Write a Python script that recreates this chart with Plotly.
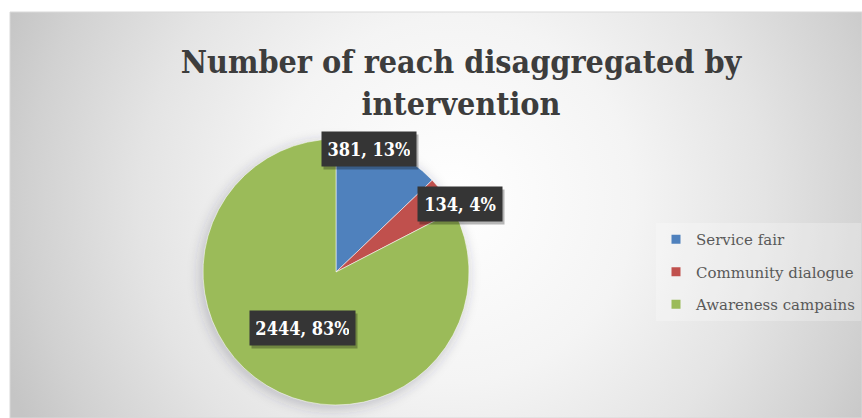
import base64
import plotly.graph_objects as go

# ---- data -----------------------------------------------------------------
categories = ["Service fair", "Community dialogue", "Awareness campains"]
reach = [381, 134, 2444]
share_text = ["13%", "4%", "83%"]
colors = ["#4F81BD", "#C0504D", "#9BBB59"]

title_text = "Number of reach disaggregated by<br>intervention"

# ---- geometry (pixels) ----------------------------------------------------
W, H = 862, 418
box_x0, box_y0 = 10, 12                 # chart-area frame
pie_cx, pie_cy, pie_r = 336, 272, 133   # pie centre / radius
# centres of the value call-outs
label_centres = [(369, 149), (460, 204), (302, 328)]
LABEL_FONT = 18
CHAR_W = 10.3                            # approx. glyph advance of call-out text
LABEL_H = 22

SERIF = "DejaVu Serif Condensed, DejaVu Serif, serif"


def px(x):
    return x / W


def py(y):
    return 1 - y / H


# ---- background: radial grey gradient + soft pie shadow ------------------
bw, bh = W - box_x0, H - box_y0
gcx, gcy = 452 - box_x0, 200 - box_y0
svg = f"""<svg xmlns="http://www.w3.org/2000/svg" width="{bw}" height="{bh}"
 viewBox="0 0 {bw} {bh}" preserveAspectRatio="none">
<defs>
<radialGradient id="g" gradientUnits="userSpaceOnUse" cx="{gcx}" cy="{gcy}" r="480">
<stop offset="0" stop-color="#ffffff"/>
<stop offset="0.38" stop-color="#f4f4f4"/>
<stop offset="0.65" stop-color="#e4e4e4"/>
<stop offset="0.88" stop-color="#d1d1d1"/>
<stop offset="1" stop-color="#c5c5c5"/>
</radialGradient>
<filter id="b" x="-30%" y="-30%" width="160%" height="160%">
<feGaussianBlur stdDeviation="6"/>
</filter>
</defs>
<rect x="0" y="0" width="{bw}" height="{bh}" fill="url(#g)"/>
<circle cx="{pie_cx - box_x0 - 2}" cy="{pie_cy - box_y0 + 3}" r="{pie_r + 2}"
 fill="#30304a" fill-opacity="0.22" filter="url(#b)"/>
</svg>"""
bg_src = "data:image/svg+xml;base64," + base64.b64encode(svg.encode()).decode()

fig = go.Figure()

fig.add_trace(go.Pie(
    labels=categories,
    values=reach,
    sort=False,
    direction="clockwise",
    rotation=0,
    marker=dict(colors=colors, line=dict(color="rgba(255,255,255,0.55)", width=1)),
    textinfo="none",
    hoverinfo="label+value+percent",
    showlegend=False,
    domain=dict(x=[px(pie_cx - pie_r), px(pie_cx + pie_r)],
                y=[py(pie_cy + pie_r), py(pie_cy - pie_r)]),
))

# legend entries with small square keys
for i, (name, col) in enumerate(zip(categories, colors)):
    fig.add_trace(go.Scatter(
        x=[None], y=[None], mode="markers", name=name,
        legendgroup=f"g{i}",
        marker=dict(symbol="square", size=9, color=col),
    ))

# value call-outs: an empty drop-shadow box first, then the dark box with text
annotations = []
for (cx, cy), v, pct in zip(label_centres, reach, share_text):
    plain = f"{v}, {pct}"
    box_w = round(CHAR_W * len(plain))
    common = dict(x=px(cx), y=py(cy), xref="paper", yref="paper",
                  xanchor="center", yanchor="middle", showarrow=False,
                  borderpad=6, width=box_w, height=LABEL_H)
    annotations.append(dict(
        text=" ", xshift=2, yshift=-3,
        font=dict(family=SERIF, size=LABEL_FONT, color="rgba(0,0,0,0)"),
        bgcolor="rgba(0,0,0,0.28)", **common,
    ))
    annotations.append(dict(
        text=f"<b>{plain}</b>",
        font=dict(family=SERIF, size=LABEL_FONT, color="#ffffff"),
        bgcolor="#353535", **common,
    ))

fig.update_layout(
    width=W, height=H,
    margin=dict(l=0, r=0, t=0, b=0),
    paper_bgcolor="#ffffff",
    plot_bgcolor="rgba(0,0,0,0)",
    title=dict(
        text=f"<b>{title_text}</b>",
        x=px(461), xanchor="center",
        y=py(73), yanchor="top",
        font=dict(family=SERIF, size=32, color="#3d3d3d"),
    ),
    xaxis=dict(visible=False),
    yaxis=dict(visible=False),
    legend=dict(
        x=px(656), y=py(223), xanchor="left", yanchor="top",
        font=dict(family="DejaVu Serif, serif", size=15, color="#595959"),
        bgcolor="rgba(255,255,255,0.25)",
        tracegroupgap=10,
        itemwidth=30,
    ),
    images=[dict(
        source=bg_src, xref="paper", yref="paper",
        x=px(box_x0), y=py(box_y0), sizex=bw / W, sizey=bh / H,
        xanchor="left", yanchor="top", sizing="stretch", layer="below",
    )],
    shapes=[dict(
        type="rect", xref="paper", yref="paper",
        x0=px(box_x0), x1=1, y0=0, y1=py(box_y0),
        line=dict(color="#d9d9d9", width=1), fillcolor="rgba(0,0,0,0)",
    )],
    annotations=annotations,
)

fig.write_html("out.html")
